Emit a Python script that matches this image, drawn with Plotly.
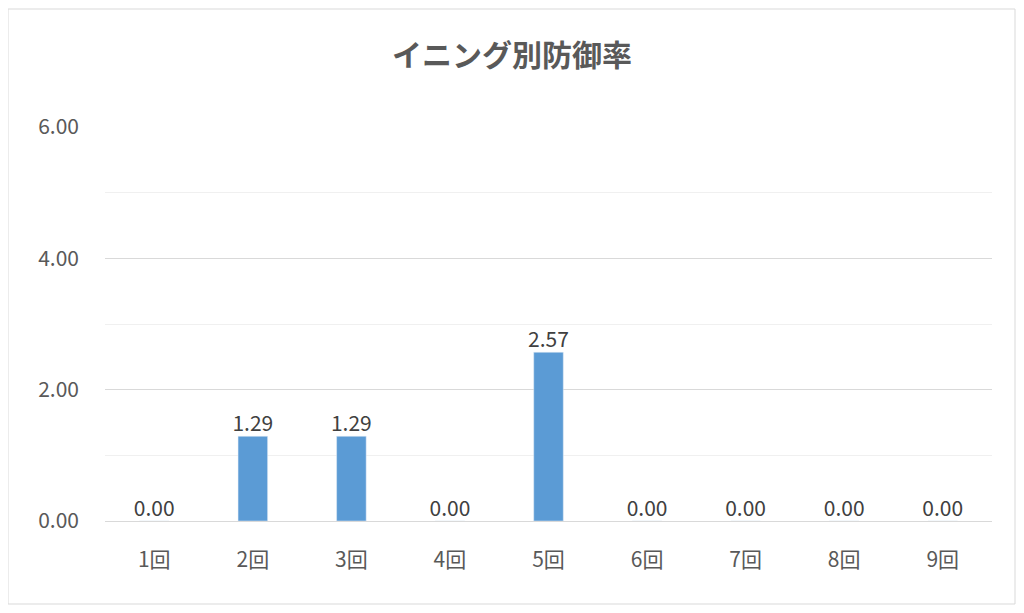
import plotly.graph_objects as go

categories = ["1回","2回","3回","4回","5回","6回","7回","8回","9回"]
era = [0.00,1.29,1.29,0.00,2.57,0.00,0.00,0.00,0.00]
labels = [f"{v:.2f}" for v in era]

font = "Noto Sans CJK JP"
W, H = 1008, 597
L, R, T, B = 97, 24, 119, 84
pw, ph = W - L - R, H - T - B
fig = go.Figure()
fig.add_bar(x=categories, y=era, width=0.3, marker_color="#5B9BD5")
fig.add_scatter(x=categories, y=era, mode="text", text=labels, textposition="top center",
                cliponaxis=False, textfont=dict(size=21, color="#404040", family=font))
fig.update_layout(
    width=W, height=H, paper_bgcolor="white", plot_bgcolor="white",
    margin=dict(l=L, r=R, t=T, b=B),
    title=dict(text="<b>イニング別防御率</b>", x=0.5, xanchor="center", y=(H-47)/H, yanchor="middle",
               font=dict(size=30, color="#595959", family=font)),
    showlegend=False,
    xaxis=dict(showline=True, linecolor="#D9D9D9", ticks="", ticklabelstandoff=20,
               tickfont=dict(size=21, color="#595959", family=font)),
    yaxis=dict(range=[0,6], tickvals=[0,2,4,6], ticktext=["0.00","2.00","4.00","6.00"],
               showgrid=True, gridcolor="#D9D9D9", zeroline=False,
               minor=dict(tickvals=[1,3,5], showgrid=True, gridcolor="#F0F0F0"),
               tickfont=dict(size=21, color="#595959", family=font), ticklabelstandoff=25),
    shapes=[dict(type="rect", xref="paper", yref="paper", x0=-L/pw, x1=1+(R-1)/pw,
                 y0=-(B-1)/ph, y1=1+(T-1)/ph, line=dict(color="#D9D9D9", width=1))],
)
fig.write_html("out.html")
